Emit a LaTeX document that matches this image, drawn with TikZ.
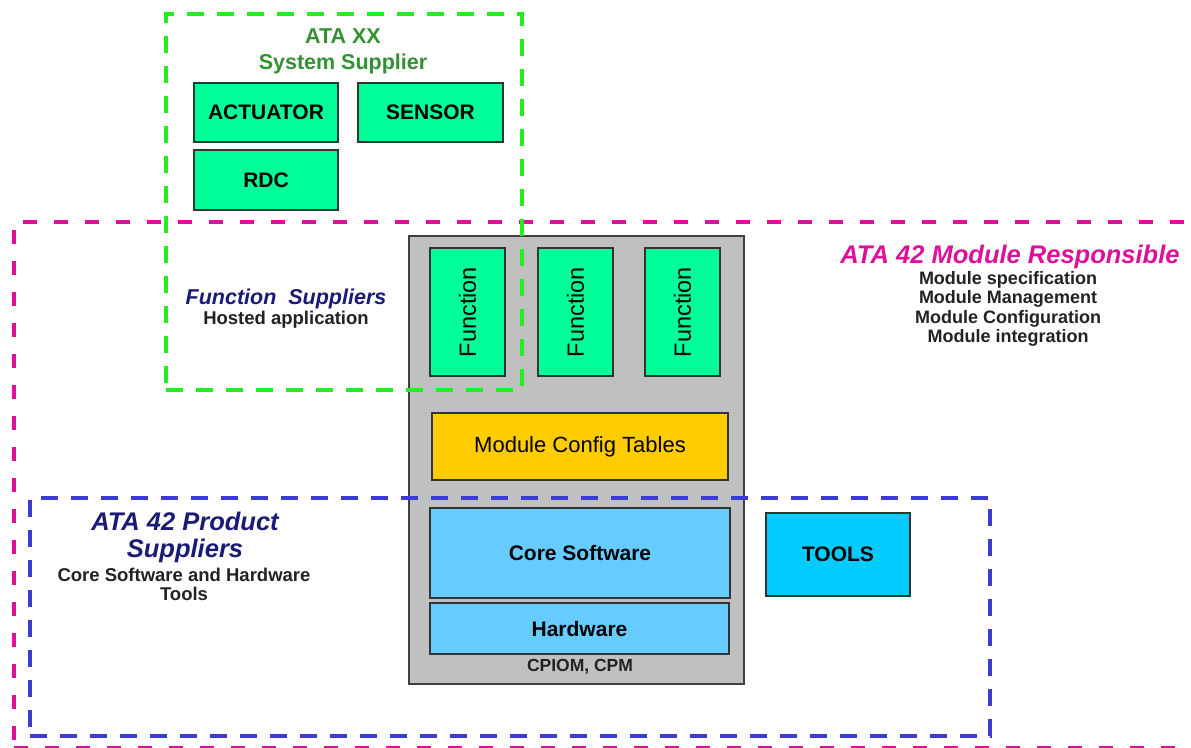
\documentclass[tikz,border=0pt]{standalone}
\usepackage{fontspec}
\setmainfont{Liberation Sans}
\definecolor{fngreen}{RGB}{0,255,153}
\definecolor{lblue}{RGB}{102,204,255}
\definecolor{tblue}{RGB}{0,204,255}
\definecolor{cfgyellow}{RGB}{255,204,0}
\definecolor{grayfill}{RGB}{192,192,192}
\definecolor{dashgreen}{RGB}{34,238,34}
\definecolor{dashpink}{RGB}{221,17,153}
\definecolor{dashblue}{RGB}{60,60,210}
\definecolor{txtgreen}{RGB}{51,145,51}
\definecolor{txtnavy}{RGB}{26,26,120}
\definecolor{txtpink}{RGB}{221,17,153}
\definecolor{txtdark}{RGB}{34,34,34}
\tikzset{
  x=1pt, y=-1pt,
  region/.style={draw, line width=4pt, dash pattern=on 17pt off 13pt, fill=none, inner sep=0pt},
  box/.style={draw=black!80, line width=1.6pt, inner sep=0pt, text=black, font=\fontsize{21}{24}\selectfont\bfseries},
  regbox/.style={box, font=\fontsize{22}{25}\selectfont},
  fnbox/.style={box, fill=fngreen, font=\fontsize{23.5}{26}\selectfont, minimum width=75pt, minimum height=128pt},
  lbl/.style={inner sep=0pt, align=center},
}
\begin{document}
\begin{tikzpicture}
\clip (0,0) rectangle (1191,747);
\fill[white] (0,0) rectangle (1191,747);
% ATA 42 module responsible region (pink)
\node[region, draw=dashpink, dash pattern=on 14pt off 17pt, minimum width=1190pt, minimum height=526pt] (pinkreg) at (609,485) {};
% gray module
\node[draw=black!75, line width=1.6pt, fill=grayfill, minimum width=335pt, minimum height=448pt, inner sep=0pt] (module) at (576.5,460) {};
% system supplier region (green)
\node[region, draw=dashgreen, minimum width=356pt, minimum height=376pt] (greenreg) at (344,202) {};
% product suppliers region (blue)
\node[region, draw=dashblue, minimum width=960pt, minimum height=238pt] (bluereg) at (510,617) {};

% system supplier boxes
\node[box, fill=fngreen, minimum width=144pt, minimum height=59pt] (act) at (266,112.5) {ACTUATOR};
\node[box, fill=fngreen, minimum width=145pt, minimum height=59pt] (sens) at (430.5,112.5) {SENSOR};
\node[box, fill=fngreen, minimum width=144pt, minimum height=60pt] (rdc) at (266,180) {RDC};

% functions
\node[fnbox] (fn1) at (467.5,312) {\rotatebox{90}{Function}};
\node[fnbox] (fn2) at (575.5,312) {\rotatebox{90}{Function}};
\node[fnbox] (fn3) at (682.5,312) {\rotatebox{90}{Function}};

% config tables, core, hardware
\node[regbox, fill=cfgyellow, minimum width=296pt, minimum height=67pt] (cfg) at (580,446.5) {Module Config Tables};
\node[box, fill=lblue, minimum width=300pt, minimum height=90pt] (core) at (580,553) {Core Software};
\node[box, fill=lblue, minimum width=299pt, minimum height=51pt] (hw) at (579.5,628.5) {Hardware};
\node[lbl, font=\fontsize{17.5}{20}\selectfont\bfseries, text=txtdark] (cpiom) at (580,667) {CPIOM, CPM};
\node[box, fill=tblue, minimum width=144pt, minimum height=83pt] (tools) at (838,554.5) {TOOLS};

% labels
\node[lbl, font=\fontsize{21.5}{26}\selectfont\bfseries, text=txtgreen] (ataxx) at (343,51) {ATA XX\\System Supplier};
\node[lbl, font=\fontsize{25.5}{28}\selectfont\bfseries\itshape, text=txtpink] (ata42m) at (1010,257) {ATA 42 Module Responsible};
\node[lbl, font=\fontsize{18}{19.5}\selectfont\bfseries, text=txtdark] (modtxt) at (1008,309) {Module specification\\Module Management\\Module Configuration\\Module integration};
\node[lbl, font=\fontsize{21.5}{24}\selectfont\bfseries\itshape, text=txtnavy] (fsup) at (286,299) {Function\ \ Suppliers};
\node[lbl, font=\fontsize{18.5}{20}\selectfont\bfseries, text=txtdark] (hosted) at (286,320) {Hosted application};
\node[lbl, font=\fontsize{25.5}{27}\selectfont\bfseries\itshape, text=txtnavy] (psup) at (185,537) {ATA 42 Product\\Suppliers};
\node[lbl, font=\fontsize{18.5}{19}\selectfont\bfseries, text=txtdark] (coretxt) at (184,584) {Core Software and Hardware\\Tools};
\end{tikzpicture}
\end{document}
